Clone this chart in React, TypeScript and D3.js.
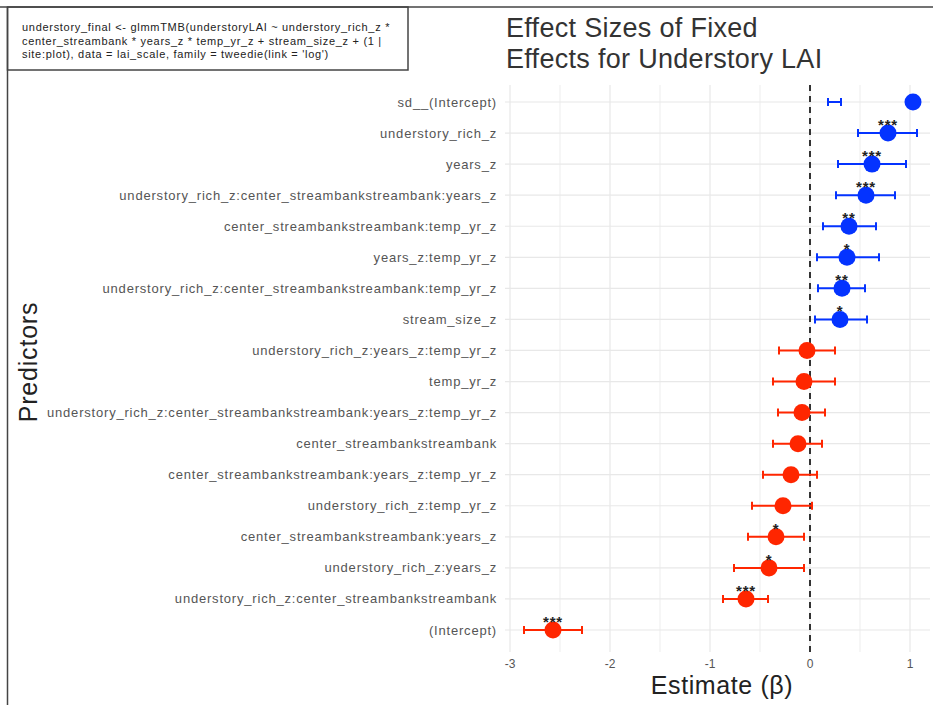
import { useEffect, useRef } from 'react';
import * as d3 from 'd3';

// predictors, top to bottom
const predictors = [
  'sd__(Intercept)',
  'understory_rich_z',
  'years_z',
  'understory_rich_z:center_streambankstreambank:years_z',
  'center_streambankstreambank:temp_yr_z',
  'years_z:temp_yr_z',
  'understory_rich_z:center_streambankstreambank:temp_yr_z',
  'stream_size_z',
  'understory_rich_z:years_z:temp_yr_z',
  'temp_yr_z',
  'understory_rich_z:center_streambankstreambank:years_z:temp_yr_z',
  'center_streambankstreambank',
  'center_streambankstreambank:years_z:temp_yr_z',
  'understory_rich_z:temp_yr_z',
  'center_streambankstreambank:years_z',
  'understory_rich_z:years_z',
  'understory_rich_z:center_streambankstreambank',
  '(Intercept)',
];
const estimates = [1.03, 0.78, 0.62, 0.56, 0.39, 0.37, 0.32, 0.3, -0.03, -0.06, -0.08, -0.12, -0.19, -0.27, -0.34, -0.41, -0.64, -2.57];
const ciLow = [0.18, 0.48, 0.28, 0.26, 0.13, 0.07, 0.08, 0.05, -0.31, -0.37, -0.32, -0.37, -0.47, -0.58, -0.62, -0.76, -0.87, -2.86];
const ciHigh = [0.31, 1.07, 0.96, 0.85, 0.66, 0.69, 0.55, 0.57, 0.25, 0.25, 0.15, 0.12, 0.07, 0.02, -0.06, -0.06, -0.42, -2.28];
const stars = ['', '***', '***', '***', '**', '*', '**', '*', '', '', '', '', '', '', '*', '*', '***', '***'];
const xTicks = [-3, -2, -1, 0, 1];
const xMinor = [-2.5, -1.5, -0.5, 0.5];
const modelText = [
  'understory_final <- glmmTMB(understoryLAI ~ understory_rich_z *',
  'center_streambank * years_z * temp_yr_z + stream_size_z + (1 |',
  "site:plot), data = lai_scale, family = tweedie(link = 'log')",
];

const W = 933;
const H = 705;
const FONT = "'Liberation Sans', Arial, Helvetica, sans-serif";

const App = () => {
  const svgRef = useRef<SVGSVGElement>(null);

  useEffect(() => {
    if (!svgRef.current) return;
    const svg = d3.select(svgRef.current);
    svg.selectAll('*').remove();

    const x = d3.scaleLinear().domain([-3.05, 1.2]).range([505, 930]);
    const y = d3.scalePoint<string>().domain(predictors).range([102, 630]);
    const top = 85;
    const bottom = 652;

    const g = svg.append('g');

    // grid
    g.selectAll('line.minor')
      .data(xMinor)
      .join('line')
      .attr('x1', (d) => x(d))
      .attr('x2', (d) => x(d))
      .attr('y1', top)
      .attr('y2', bottom)
      .attr('stroke', '#ededed')
      .attr('stroke-width', 1);
    g.selectAll('line.major')
      .data(xTicks)
      .join('line')
      .attr('x1', (d) => x(d))
      .attr('x2', (d) => x(d))
      .attr('y1', top)
      .attr('y2', bottom)
      .attr('stroke', '#e8e8e8')
      .attr('stroke-width', 1.2);
    g.selectAll('line.hgrid')
      .data(predictors)
      .join('line')
      .attr('x1', 505)
      .attr('x2', 930)
      .attr('y1', (d) => y(d)!)
      .attr('y2', (d) => y(d)!)
      .attr('stroke', '#e8e8e8')
      .attr('stroke-width', 1.2);

    // zero line
    g.append('line')
      .attr('x1', x(0))
      .attr('x2', x(0))
      .attr('y1', top)
      .attr('y2', bottom + 4)
      .attr('stroke', '#333')
      .attr('stroke-width', 2)
      .attr('stroke-dasharray', '6,5');

    const col = (i: number) => (estimates[i] > 0 ? '#0433ff' : '#ff2600');

    // error bars
    const bars = g.selectAll('g.bar').data(predictors).join('g');
    bars
      .append('line')
      .attr('x1', (_, i) => x(ciLow[i]))
      .attr('x2', (_, i) => x(ciHigh[i]))
      .attr('y1', (d) => y(d)!)
      .attr('y2', (d) => y(d)!)
      .attr('stroke', (_, i) => col(i))
      .attr('stroke-width', 2);
    [ciLow, ciHigh].forEach((arr) => {
      bars
        .append('line')
        .attr('x1', (_, i) => x(arr[i]))
        .attr('x2', (_, i) => x(arr[i]))
        .attr('y1', (d) => y(d)! - 4)
        .attr('y2', (d) => y(d)! + 4)
        .attr('stroke', (_, i) => col(i))
        .attr('stroke-width', 2);
    });
    bars
      .append('circle')
      .attr('cx', (_, i) => x(estimates[i]))
      .attr('cy', (d) => y(d)!)
      .attr('r', 8.5)
      .attr('fill', (_, i) => col(i));
    bars
      .append('text')
      .attr('x', (_, i) => x(estimates[i]))
      .attr('y', (d) => y(d)! - 3)
      .attr('text-anchor', 'middle')
      .attr('font-family', FONT)
      .attr('font-size', 15)
      .attr('font-weight', 'bold')
      .attr('letter-spacing', 0.8)
      .attr('fill', '#222')
      .text((_, i) => stars[i]);

    // y labels
    g.selectAll('text.ylab')
      .data(predictors)
      .join('text')
      .attr('x', 497)
      .attr('y', (d) => y(d)! + 4.5)
      .attr('text-anchor', 'end')
      .attr('font-family', FONT)
      .attr('font-size', 13)
      .attr('letter-spacing', 0.8)
      .attr('fill', '#555')
      .text((d) => d);

    // x labels
    g.selectAll('text.xlab')
      .data(xTicks)
      .join('text')
      .attr('x', (d) => x(d))
      .attr('y', 668)
      .attr('text-anchor', 'middle')
      .attr('font-family', FONT)
      .attr('font-size', 12)
      .attr('fill', '#555')
      .text((d) => d3.format('d')(d).replace('−', '-'));

    // axis titles
    g.append('text')
      .attr('x', 722)
      .attr('y', 694)
      .attr('text-anchor', 'middle')
      .attr('font-family', FONT)
      .attr('font-size', 25)
      .attr('letter-spacing', 0.6)
      .attr('fill', '#222')
      .text('Estimate (β)');
    g.append('text')
      .attr('transform', 'translate(37,362) rotate(-90)')
      .attr('text-anchor', 'middle')
      .attr('font-family', FONT)
      .attr('font-size', 25)
      .attr('letter-spacing', 0.8)
      .attr('fill', '#222')
      .text('Predictors');

    // title
    g.selectAll('text.title')
      .data(['Effect Sizes of Fixed', 'Effects for Understory LAI'])
      .join('text')
      .attr('x', 506)
      .attr('y', (_, i) => 37 + i * 31)
      .attr('font-family', FONT)
      .attr('font-size', 27)
      .attr('letter-spacing', 0.3)
      .attr('fill', '#333')
      .text((d) => d);

    // frame + model box
    g.append('line').attr('x1', 0).attr('x2', W).attr('y1', 7).attr('y2', 7).attr('stroke', '#444').attr('stroke-width', 1.5);
    g.append('line').attr('x1', 7.5).attr('x2', 7.5).attr('y1', 7).attr('y2', H).attr('stroke', '#444').attr('stroke-width', 1.5);
    g.append('rect')
      .attr('x', 7.5)
      .attr('y', 7)
      .attr('width', 400.5)
      .attr('height', 63)
      .attr('fill', 'none')
      .attr('stroke', '#444')
      .attr('stroke-width', 1.5);
    g.selectAll('text.model')
      .data(modelText)
      .join('text')
      .attr('x', 22)
      .attr('y', (_, i) => 31 + i * 13.5)
      .attr('font-family', FONT)
      .attr('font-size', 11)
      .attr('letter-spacing', 0.7)
      .attr('fill', '#222')
      .text((d) => d);
  }, []);

  return (
    <svg
      ref={svgRef}
      width={W}
      height={H}
      style={{ position: 'absolute', left: 0, top: 0, background: '#fff' }}
    ></svg>
  );
};

export default App;
